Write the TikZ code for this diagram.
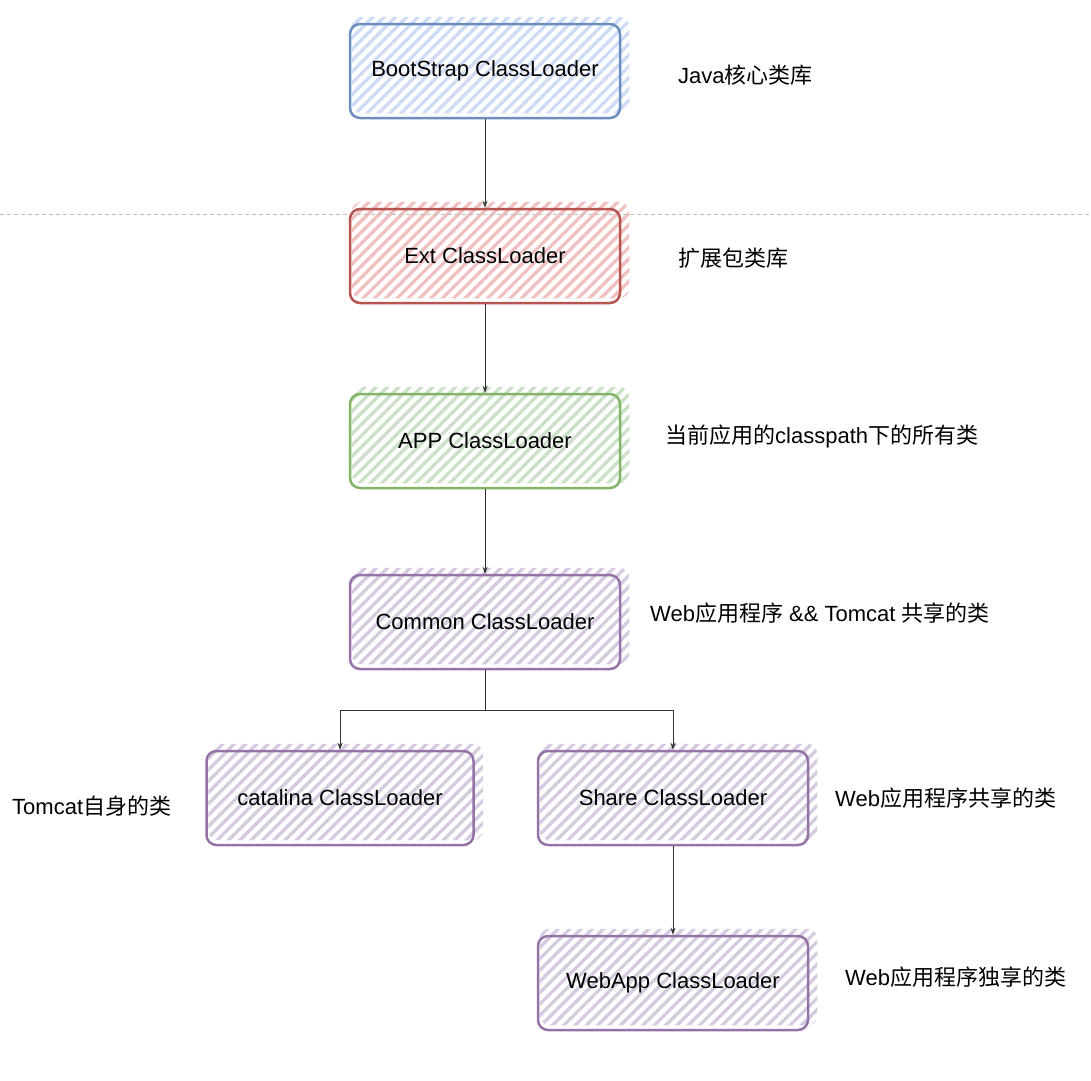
\documentclass[tikz,border=0pt]{standalone}
\usepackage{fontspec}
\setmainfont{Liberation Sans}
\newfontfamily\cjk{Noto Sans CJK SC}
\usetikzlibrary{patterns.meta,arrows.meta,backgrounds}
\definecolor{bBlue}{HTML}{6C8EBF}\definecolor{fBlue}{HTML}{CCDCF4}
\definecolor{bRed}{HTML}{B85450}\definecolor{fRed}{HTML}{F0C0BE}
\definecolor{bGreen}{HTML}{82B366}\definecolor{fGreen}{HTML}{C9E1C5}
\definecolor{bPurple}{HTML}{9673A6}\definecolor{fPurple}{HTML}{D5CADF}
\tikzset{
  loader/.style={draw, line width=2.5pt, rounded corners=10pt, minimum width=270pt,
    minimum height=94pt, font=\fontsize{22}{26}\selectfont, text=black},
  note/.style={anchor=west, font=\fontsize{22}{26}\selectfont, inner sep=0pt},
  conn/.style={draw=black!80, line width=1pt, -{Stealth[length=7pt,width=5pt]}},
}
\newcommand\hatchbox[2]{%
  \fill[pattern={Lines[angle=45,distance=8pt,line width=3.3pt]}, pattern color=#2,
    rounded corners=10pt]
    ([shift={(3,-6)}]#1.south west) rectangle ([shift={(8,-6)}]#1.north east);}
\begin{document}
\begin{tikzpicture}[x=1pt,y=-1pt]
\useasboundingbox (0,0) rectangle (1091,1080);
\node[loader, draw=bBlue] (boot) at (485,71) {BootStrap ClassLoader};
\node[loader, draw=bRed] (ext) at (485,256) {Ext ClassLoader};
\node[loader, draw=bGreen] (app) at (485,441) {APP ClassLoader};
\node[loader, draw=bPurple] (common) at (485,622) {Common ClassLoader};
\node[loader, draw=bPurple, minimum width=267pt] (cat) at (340,798) {catalina ClassLoader};
\node[loader, draw=bPurple] (share) at (673,798) {Share ClassLoader};
\node[loader, draw=bPurple] (webapp) at (673,983) {WebApp ClassLoader};
\begin{scope}[on background layer]
  \fill[white] (0,0) rectangle (1091,1080);
  \hatchbox{boot}{fBlue}
  \hatchbox{ext}{fRed}
  \hatchbox{app}{fGreen}
  \hatchbox{common}{fPurple}
  \hatchbox{cat}{fPurple}
  \hatchbox{share}{fPurple}
  \hatchbox{webapp}{fPurple}
  \coordinate (dl) at (0,214);
  \coordinate (dr) at (1091,214);
  \draw[black!25, line width=0.8pt, dash pattern=on 4pt off 3pt] (dl) -- (dr);
\end{scope}
\draw[conn] (boot.south) -- (ext.north);
\draw[conn] (ext.south) -- (app.north);
\draw[conn] (app.south) -- (common.north);
\coordinate (split) at (485,710);
\draw[draw=black!80, line width=1pt] (common.south) -- (split);
\draw[conn] (split) -| (cat.north);
\draw[conn] (split) -| (share.north);
\draw[conn] (share.south) -- (webapp.north);
\node[note] (n1) at (678,75) {Java{\cjk 核心类库}};
\node[note] (n2) at (678,258) {{\cjk 扩展包类库}};
\node[note] (n3) at (665,436) {{\cjk 当前应用的}classpath{\cjk 下的所有类}};
\node[note] (n4) at (650,613) {Web{\cjk 应用程序} \&\& Tomcat {\cjk 共享的类}};
\node[note] (n5) at (12,806) {Tomcat{\cjk 自身的类}};
\node[note] (n6) at (835,798) {Web{\cjk 应用程序共享的类}};
\node[note] (n7) at (845,977) {Web{\cjk 应用程序独享的类}};
\end{tikzpicture}
\end{document}
